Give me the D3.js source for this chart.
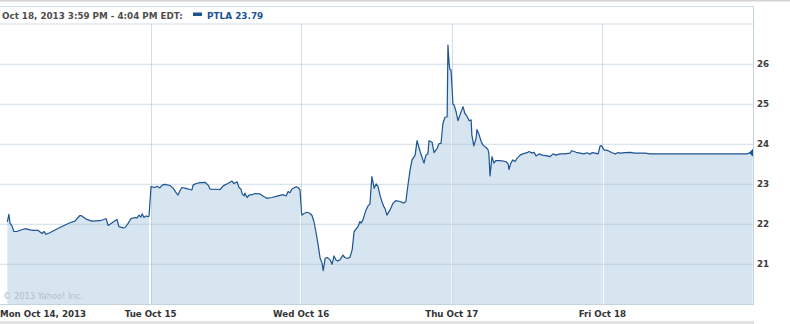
<!DOCTYPE html>
<html><head><meta charset="utf-8">
<script src="https://cdn.jsdelivr.net/npm/d3@7"></script>
<style>body{margin:0;background:#fff;}svg{display:block}</style>
</head><body><svg id="c" width="790" height="324"></svg>
<script>
// ---- data ----
const dayLabels = ["Mon Oct 14, 2013", "Tue Oct 15", "Wed Oct 16", "Thu Oct 17", "Fri Oct 18"];
const yTicks = [21, 22, 23, 24, 25, 26];
const headerText = "Oct 18, 2013 3:59 PM - 4:04 PM EDT:";
const seriesLabel = "PTLA 23.79";
const copyright = "\u00A9 2013 Yahoo! Inc.";
// trading minutes counted from Monday's open (390 per session)
const minutes = [
  19,23,26,31,36,44,52,65,78,85,98,109,114,119,129,155,181,194,207,212,223,238,259,275,280,285,295,303,308,319,324,331,339,350,355,360,365,368,373,378,383,386,
  391,401,407,414,420,427,440,448,456,461,466,471,484,492,497,500,508,518,531,539,544,570,578,590,601,606,614,619,624,627,632,634,640,645,653,660,673,684,691,704,720,733,741,746,751,756,767,772,777,
  781,782,787,795,803,808,813,818,824,829,834,837,842,847,855,860,865,870,875,881,888,893,899,906,912,917,922,927,932,935,940,943,948,953,958,963,969,974,979,984,989,994,997,1002,1010,1018,1025,1036,1046,1051,1057,1062,1067,1075,1080,1088,1098,1103,1108,1111,1119,1124,1132,1137,1142,1147,1152,1158,1160,1163,1165,1168,1169,
  1173,1176,1181,1186,1191,1196,1199,1204,1209,1215,1220,1222,1227,1233,1235,1240,1246,1251,1259,1264,1266,1269,1274,1279,1284,1295,1310,1316,1318,1323,1328,1334,1339,1347,1354,1365,1370,1378,1383,1388,1396,1404,1417,1424,1432,1440,1450,1463,1476,1481,1492,1502,1512,1520,1528,1533,1541,1549,1554,1558,
  1564,1575,1585,1593,1600,1606,1619,1632,1644,1657,1670,1683,1813,1934,1942,1949
];
const prices = [
  22.06,22.25,22.03,21.96,21.82,21.82,21.85,21.89,21.86,21.85,21.85,21.77,21.82,21.75,21.79,21.92,22.04,22.08,22.22,22.21,22.13,22.08,22.09,22.14,21.97,22.00,22.07,22.12,21.94,21.91,21.92,22.01,22.14,22.17,22.16,22.23,22.18,22.26,22.17,22.21,22.19,22.21,
  22.94,22.92,22.95,22.91,22.98,23.00,22.97,22.91,22.79,22.73,22.84,22.92,22.89,22.87,22.86,22.98,23.02,23.04,23.05,22.98,22.88,22.87,22.96,23.02,23.08,23.02,23.06,22.92,22.88,22.76,22.71,22.78,22.67,22.73,22.74,22.77,22.76,22.69,22.65,22.67,22.71,22.74,22.71,22.82,22.79,22.88,22.94,22.92,22.86,
  22.27,22.23,22.27,22.30,22.27,22.22,22.07,21.82,21.48,21.15,21.03,20.84,21.15,21.17,21.11,21.00,21.21,21.11,21.08,21.12,21.23,21.17,21.15,21.17,21.36,21.82,21.88,21.94,22.07,22.03,22.11,22.21,22.36,22.46,22.51,23.19,22.90,23.01,22.94,22.73,22.57,22.44,22.40,22.23,22.36,22.53,22.59,22.57,22.53,22.57,23.02,23.36,23.61,23.73,24.09,23.82,23.53,23.73,23.76,24.09,24.05,23.79,23.90,24.02,24.02,24.52,24.67,24.69,26.48,26.02,25.87,25.86,25.70,
  25.00,24.98,24.82,24.59,24.73,24.86,24.94,24.77,24.71,24.59,24.61,24.23,23.96,24.15,24.37,24.26,24.07,23.98,23.92,23.86,23.77,23.21,23.69,23.53,23.59,23.59,23.57,23.51,23.37,23.53,23.61,23.57,23.65,23.73,23.76,23.79,23.82,23.78,23.80,23.71,23.76,23.73,23.71,23.69,23.76,23.73,23.76,23.76,23.78,23.84,23.80,23.78,23.76,23.79,23.75,23.79,23.78,23.76,23.96,23.96,
  23.86,23.84,23.79,23.76,23.79,23.78,23.79,23.80,23.78,23.78,23.78,23.76,23.76,23.76,23.79,23.79
];
const sessionLength = 390;

// ---- chart ----
const svg = d3.select("#c");
const plotRight = 753, plotTop = 24, plotBottom = 304;
const x = d3.scaleLinear().domain([0, sessionLength * dayLabels.length]).range([0, plotRight]);
const y = d3.scaleLinear().domain([21, 26]).range([264.3, 64.3]);
const pts = minutes.map((m, i) => ({m, v: prices[i], day: Math.floor(m / sessionLength)}));

const FONT = "'DejaVu Sans', Verdana, sans-serif";
const grid = "#a9c3d6";

// top page rule
svg.append("rect").attr("x", 0).attr("y", 0).attr("width", 790).attr("height", 1.5).attr("fill", "#d2d2d2");
// header box
svg.append("rect").attr("x", -1).attr("y", 6.5).attr("width", plotRight + 1.5).attr("height", plotTop - 6.5)
  .attr("fill", "#fff").attr("stroke", "#cfdbe4").attr("stroke-width", 1);

// areas (one per session)
const area = d3.area().x(d => x(d.m)).y0(plotBottom).y1(d => y(d.v));
const byDay = d3.groups(pts, d => d.day);
svg.append("g").selectAll("path").data(byDay).join("path")
  .attr("d", d => area(d[1])).attr("fill", "#d6e5f0");

// horizontal gridlines
svg.append("g").selectAll("line").data(yTicks).join("line")
  .attr("x1", 0).attr("x2", plotRight).attr("y1", d => y(d)).attr("y2", d => y(d))
  .attr("stroke", grid).attr("stroke-opacity", 0.55);
// vertical gridlines at session boundaries
svg.append("g").selectAll("line").data(d3.range(1, dayLabels.length)).join("line")
  .attr("x1", d => Math.round(x(d * sessionLength)) + 0.5).attr("x2", d => Math.round(x(d * sessionLength)) + 0.5)
  .attr("y1", plotTop).attr("y2", plotBottom)
  .attr("stroke", grid).attr("stroke-opacity", 0.55);

// price line
const line = d3.line().x(d => x(d.m)).y(d => y(d.v));
svg.append("path").attr("d", line(pts)).attr("fill", "none")
  .attr("stroke", "#1c5393").attr("stroke-width", 1.2).attr("stroke-linejoin", "round");

// end marker (left half of a diamond)
const last = pts[pts.length - 1];
const lx = x(sessionLength * dayLabels.length), ly = y(last.v);
svg.append("path").attr("d", `M${lx},${ly - 4}L${lx - 4},${ly}L${lx},${ly + 4}Z`).attr("fill", "#1c5393");

// right border and bottom axis
svg.append("line").attr("x1", plotRight + 0.5).attr("x2", plotRight + 0.5).attr("y1", 6).attr("y2", plotBottom + 0.5)
  .attr("stroke", "#c3d3df");
svg.append("line").attr("x1", 0).attr("x2", plotRight + 1).attr("y1", plotBottom + 0.5).attr("y2", plotBottom + 0.5)
  .attr("stroke", "#c3d3df");
// bottom band
svg.append("rect").attr("x", 0).attr("y", 321).attr("width", plotRight + 1).attr("height", 3).attr("fill", "#e2e2e2");

// y labels
svg.append("g").selectAll("text").data(yTicks).join("text")
  .attr("x", 757).attr("y", d => y(d) + 2.6).text(d => d)
  .attr("font-family", FONT).attr("font-weight", "bold").attr("font-size", 8.7).attr("fill", "#3a3a3a");

// x labels
svg.append("g").selectAll("text").data(dayLabels).join("text")
  .attr("x", (d, i) => i === 0 ? 0 : x(i * sessionLength))
  .attr("y", 316.5)
  .attr("text-anchor", (d, i) => i === 0 ? "start" : "middle")
  .text(d => d)
  .attr("font-family", FONT).attr("font-weight", "bold").attr("font-size", 8.7).attr("fill", "#333");

// copyright
svg.append("text").attr("x", 3).attr("y", 299).text(copyright)
  .attr("font-family", FONT).attr("font-size", 8.3).attr("fill", "#b4bec6");

// header
svg.append("text").attr("x", 2).attr("y", 18.5).text(headerText)
  .attr("font-family", FONT).attr("font-weight", "bold").attr("font-size", 8.75).attr("fill", "#4d4d4d");
svg.append("rect").attr("x", 193).attr("y", 12.5).attr("width", 9).attr("height", 3.5).attr("fill", "#1c5393");
svg.append("text").attr("x", 207).attr("y", 18.5).text(seriesLabel)
  .attr("font-family", FONT).attr("font-weight", "bold").attr("font-size", 8.9).attr("fill", "#1c5393");
</script></body></html>
